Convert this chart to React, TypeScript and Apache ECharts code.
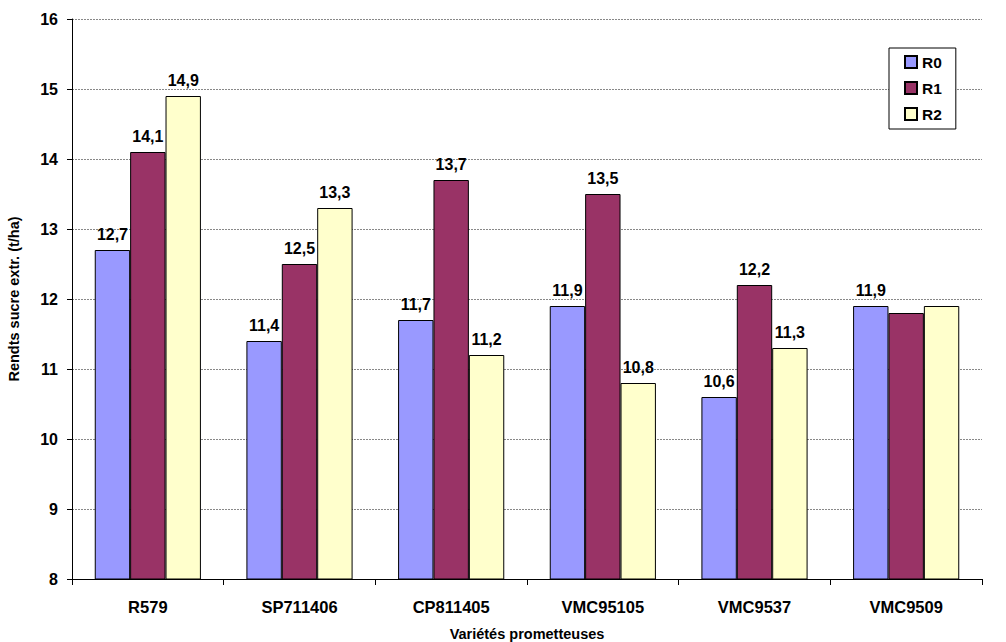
import React, { useEffect, useRef } from "react";
import * as echarts from "echarts";

const categories = ["R579", "SP711406", "CP811405", "VMC95105", "VMC9537", "VMC9509"];
const r0 = [12.7, 11.4, 11.7, 11.9, 10.6, 11.9];
const r1 = [14.1, 12.5, 13.7, 13.5, 12.2, 11.8];
const r2 = [14.9, 13.3, 11.2, 10.8, 11.3, 11.9];
const seriesNames = ["R0", "R1", "R2"];
const colors = ["#9999FF", "#993366", "#FFFFCC"];
// labels hidden in the reference for R1 and R2 of the last variety
const hiddenLabels: Record<string, number[]> = { R0: [], R1: [5], R2: [5] };

const FONT = "'Liberation Sans', Arial, sans-serif";

export default function App() {
  const ref = useRef<HTMLDivElement>(null);
  useEffect(() => {
    if (!ref.current) return;
    const chart = echarts.init(ref.current, undefined, { renderer: "svg" });
    const all = [r0, r1, r2];
    chart.setOption({
      animation: false,
      textStyle: { fontFamily: FONT },
      grid: { left: 72, right: 24, top: 19, bottom: 63, containLabel: false, outerBoundsMode: "none" },
      legend: {
        orient: "vertical",
        left: 889,
        top: 48,
        padding: [6, 14, 7, 15],
        itemGap: 10,
        itemWidth: 12,
        itemHeight: 12,
        borderColor: "#000",
        borderWidth: 1,
        backgroundColor: "#fff",
        textStyle: { fontFamily: FONT, fontWeight: "bold", fontSize: 15.5, lineHeight: 16, color: "#000" },
        icon: "rect",
        data: seriesNames,
      },
      xAxis: {
        type: "category",
        data: categories,
        name: "Variétés prometteuses",
        nameLocation: "middle",
        nameGap: 47,
        nameTextStyle: { fontFamily: FONT, fontWeight: "bold", fontSize: 14.5, color: "#000" },
        axisLine: { lineStyle: { color: "#000", width: 1 } },
        axisTick: { show: true, alignWithLabel: false, length: 6, lineStyle: { color: "#000" } },
        axisLabel: { fontFamily: FONT, fontWeight: "bold", fontSize: 16.5, color: "#000", margin: 19 },
      },
      yAxis: {
        type: "value",
        min: 8,
        max: 16,
        interval: 1,
        name: "Rendts sucre extr. (t/ha)",
        nameLocation: "middle",
        nameGap: 51,
        nameRotate: 90,
        nameTextStyle: { fontFamily: FONT, fontWeight: "bold", fontSize: 14.5, color: "#000" },
        axisLine: { show: true, lineStyle: { color: "#000", width: 1 } },
        axisTick: { show: true, length: 5, lineStyle: { color: "#000" } },
        axisLabel: { fontFamily: FONT, fontWeight: "bold", fontSize: 16, color: "#000", margin: 14 },
        splitLine: { show: true, lineStyle: { color: "#888", type: [2, 1], width: 1 } },
      },
      series: seriesNames.map((name, si) => ({
        name,
        type: "bar",
        barGap: "0%",
        barCategoryGap: "30%",
        itemStyle: { color: colors[si], borderColor: "#000", borderWidth: 1 },
        label: {
          show: true,
          position: "top",
          distance: 8,
          fontFamily: FONT,
          fontWeight: "bold",
          fontSize: 16,
          color: "#000",
          formatter: (p: any) => String(p.value).replace(".", ","),
        },
        data: all[si].map((v, i) =>
          hiddenLabels[name].includes(i) ? { value: v, label: { show: false } } : v
        ),
      })),
    });
    return () => chart.dispose();
  }, []);
  return <div ref={ref} style={{ width: 1006, height: 642, position: "absolute", left: 0, top: 0, background: "#fff" }} />;
}
